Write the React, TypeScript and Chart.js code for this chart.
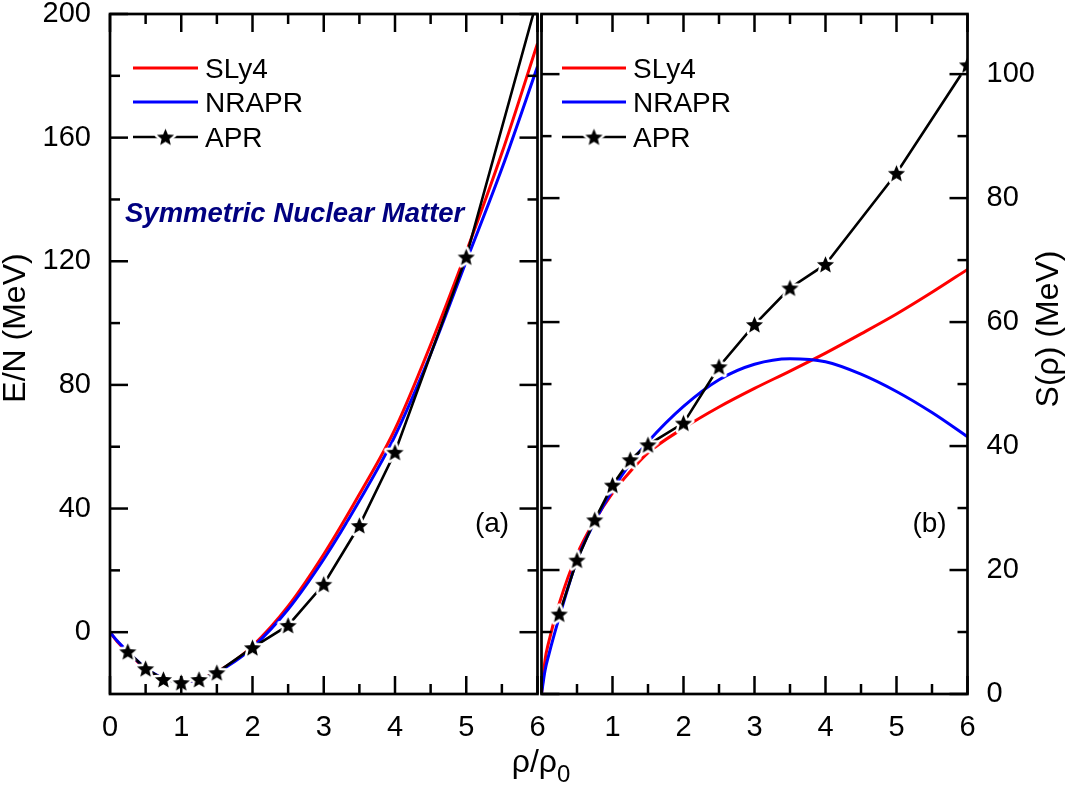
import React, { useEffect, useRef } from 'react';
import { Chart, registerables } from 'chart.js';

Chart.register(...registerables);

const FONT = "'Liberation Sans', Arial, Helvetica, sans-serif";

// ---------- Panel (a): E/N of symmetric nuclear matter ----------
const enDensity = [0, 0.1, 0.25, 0.5, 0.75, 1, 1.25, 1.5, 1.75, 2, 2.5, 3, 3.5, 4, 4.5, 5, 5.5, 6];
const enSLy4 = [0, -3.0, -6.5, -11.8, -15.0, -16.0, -15.3, -12.8, -9.2, -4.5, 8.4, 25.2, 44.6, 65.7, 93, 123, 155, 190.5];
const enNRAPR = [0, -2.8, -6.3, -11.6, -14.9, -16.0, -15.4, -13.0, -9.5, -5.0, 7.4, 23.6, 42.5, 63.5, 90, 120, 150, 183];
const aprDensity = [0.25, 0.5, 0.75, 1, 1.25, 1.5, 2, 2.5, 3, 3.5, 4, 5, 6];
const enAPR = [-6.3, -11.8, -15.3, -16.3, -15.3, -13.1, -5.0, 2.2, 15.5, 34.5, 58.2, 121.4, 205];

// ---------- Panel (b): symmetry energy S(rho) ----------
const sDensity = [0, 0.05, 0.1, 0.25, 0.5, 0.75, 1, 1.25, 1.5, 2, 2.5, 3, 3.5, 4, 4.5, 5, 5.5, 6];
const sSLy4 = [0, 5.5, 8.3, 14.6, 22.5, 28.0, 32.4, 35.9, 38.9, 42.9, 46.3, 49.3, 52.1, 55.0, 58.1, 61.3, 64.8, 68.5];
const sNRAPR = [0, 3.8, 6.2, 12.4, 21.6, 27.8, 32.9, 37.2, 40.7, 46.4, 50.7, 53.2, 54.1, 53.6, 51.6, 48.8, 45.4, 41.5];
const sAPR = [12.9, 21.6, 28.1, 33.7, 37.8, 40.2, 43.7, 52.8, 59.6, 65.5, 69.3, 84.0, 101.5];

// ---------- Ticks ----------
const xLabelsA = [0, 1, 2, 3, 4, 5, 6];
const xLabelsB = [1, 2, 3, 4, 5, 6];
const xMajor = [0, 1, 2, 3, 4, 5, 6];
const xMinor = [0.5, 1.5, 2.5, 3.5, 4.5, 5.5];
const yLabelsA = [0, 40, 80, 120, 160, 200];
const yMinorA = [20, 60, 100, 140, 180];
const yLabelsB = [0, 20, 40, 60, 80, 100];
const yMinorB = [10, 30, 50, 70, 90];

const seriesNames = ['SLy4', 'NRAPR', 'APR'];
const seriesColors = ['#ff0000', '#0000ff', '#000000'];

function makeStar(r: number, halo: number): HTMLCanvasElement {
  const size = Math.ceil(2 * (r + halo) + 2);
  const c = document.createElement('canvas');
  c.width = size;
  c.height = size;
  const g = c.getContext('2d')!;
  const cx = size / 2;
  const cy = size / 2 + r * 0.08;
  g.beginPath();
  for (let i = 0; i < 10; i++) {
    const ang = -Math.PI / 2 + (i * Math.PI) / 5;
    const rr = i % 2 === 0 ? r : r * 0.45;
    g.lineTo(cx + rr * Math.cos(ang), cy + rr * Math.sin(ang));
  }
  g.closePath();
  if (halo > 0) {
    g.lineWidth = halo * 2;
    g.strokeStyle = '#ffffff';
    g.lineJoin = 'round';
    g.stroke();
  }
  g.fillStyle = '#000000';
  g.fill();
  return c;
}

const pts = (xs: number[], ys: number[]) => xs.map((x, i) => ({ x, y: ys[i] }));

function framePlugin(cfg: { xMajor: number[]; xMinor: number[]; yMajor: number[]; yMinor: number[] }) {
  return {
    id: 'frame',
    afterDatasetsDraw(chart: any) {
      const { ctx, chartArea: a, scales } = chart;
      const xs = scales.x;
      const ys = scales.y;
      ctx.save();
      ctx.strokeStyle = '#000';
      ctx.lineWidth = 2.5;
      ctx.lineCap = 'butt';
      const seg = (x1: number, y1: number, x2: number, y2: number) => {
        ctx.beginPath();
        ctx.moveTo(x1, y1);
        ctx.lineTo(x2, y2);
        ctx.stroke();
      };
      const xt = (vals: number[], len: number) =>
        vals.forEach((v) => {
          const p = xs.getPixelForValue(v);
          seg(p, a.bottom, p, a.bottom - len);
          seg(p, a.top, p, a.top + len);
        });
      const yt = (vals: number[], len: number) =>
        vals.forEach((v) => {
          const p = ys.getPixelForValue(v);
          seg(a.left, p, a.left + len, p);
          seg(a.right, p, a.right - len, p);
        });
      xt(cfg.xMajor, 18);
      xt(cfg.xMinor, 10);
      yt(cfg.yMajor, 18);
      yt(cfg.yMinor, 10);
      ctx.lineWidth = 2.7;
      ctx.strokeRect(a.left, a.top, a.right - a.left, a.bottom - a.top);
      ctx.restore();
    },
  };
}

function legendPlugin(cfg: { x0: number; x1: number; textX: number; rows: number[]; star: HTMLCanvasElement }) {
  return {
    id: 'customLegend',
    afterDraw(chart: any) {
      const ctx = chart.ctx;
      ctx.save();
      chart.data.datasets.forEach((ds: any, i: number) => {
        const y = cfg.rows[i];
        ctx.strokeStyle = ds.borderColor;
        ctx.lineWidth = ds.borderWidth;
        ctx.beginPath();
        ctx.moveTo(cfg.x0, y);
        ctx.lineTo(cfg.x1, y);
        ctx.stroke();
        if (ds.pointRadius > 0) {
          const s = cfg.star;
          ctx.drawImage(s, (cfg.x0 + cfg.x1) / 2 - s.width / 2, y - s.height / 2);
        }
        ctx.fillStyle = '#000';
        ctx.font = `28px ${FONT}`;
        ctx.textAlign = 'left';
        ctx.textBaseline = 'alphabetic';
        ctx.fillText(ds.label, cfg.textX, y + 10);
      });
      ctx.restore();
    },
  };
}

type TextItem = { text: string; x: number; y: number; font: string; color?: string; align?: CanvasTextAlign; rotate?: boolean; sub?: string; subFont?: string; subDy?: number };

function textPlugin(items: TextItem[]) {
  return {
    id: 'texts',
    afterDraw(chart: any) {
      const ctx = chart.ctx;
      items.forEach((t) => {
        ctx.save();
        ctx.fillStyle = t.color || '#000';
        ctx.textBaseline = 'alphabetic';
        ctx.translate(t.x, t.y);
        if (t.rotate) ctx.rotate(-Math.PI / 2);
        ctx.font = t.font;
        if (t.sub) {
          const w1 = ctx.measureText(t.text).width;
          ctx.font = t.subFont || t.font;
          const w2 = ctx.measureText(t.sub).width;
          const start = -(w1 + w2) / 2;
          ctx.textAlign = 'left';
          ctx.font = t.font;
          ctx.fillText(t.text, start, 0);
          ctx.font = t.subFont || t.font;
          ctx.fillText(t.sub, start + w1, t.subDy || 0);
        } else {
          ctx.textAlign = t.align || 'center';
          ctx.fillText(t.text, 0, 0);
        }
        ctx.restore();
      });
    },
  };
}

function buildDatasets(xCurve: number[], ySLy4: number[], yNRAPR: number[], yAPR: number[], star: HTMLCanvasElement) {
  return [
    {
      label: seriesNames[0],
      data: pts(xCurve, ySLy4),
      borderColor: seriesColors[0],
      borderWidth: 3,
      pointRadius: 0,
      cubicInterpolationMode: 'monotone',
      fill: false,
      order: 2,
    },
    {
      label: seriesNames[1],
      data: pts(xCurve, yNRAPR),
      borderColor: seriesColors[1],
      borderWidth: 3,
      pointRadius: 0,
      cubicInterpolationMode: 'monotone',
      fill: false,
      order: 1,
    },
    {
      label: seriesNames[2],
      data: pts(aprDensity, yAPR),
      borderColor: seriesColors[2],
      borderWidth: 2.6,
      pointStyle: star,
      pointRadius: 9,
      tension: 0,
      fill: false,
      order: 0,
    },
  ];
}

function axisX(labels: number[]) {
  return {
    type: 'linear',
    position: 'bottom',
    min: 0,
    max: 6,
    grid: { display: false, drawTicks: false },
    border: { display: false },
    ticks: { color: '#000', font: { family: FONT, size: 29 }, padding: 17, maxRotation: 0, autoSkip: false },
    afterBuildTicks: (s: any) => {
      s.ticks = labels.map((v) => ({ value: v }));
    },
    afterFit: (s: any) => {
      s.height = 96;
      s.paddingLeft = 0;
      s.paddingRight = 0;
    },
  };
}

function axisY(labels: number[], min: number, max: number, position: 'left' | 'right', width: number) {
  return {
    type: 'linear',
    position,
    min,
    max,
    grid: { display: false, drawTicks: false },
    border: { display: false },
    ticks: { color: '#000', font: { family: FONT, size: 29 }, padding: 19, autoSkip: false },
    afterBuildTicks: (s: any) => {
      s.ticks = labels.map((v) => ({ value: v }));
    },
    afterFit: (s: any) => {
      s.width = width;
      s.paddingTop = 0;
      s.paddingBottom = 0;
    },
  };
}

export default function App() {
  const leftRef = useRef<HTMLCanvasElement>(null);
  const rightRef = useRef<HTMLCanvasElement>(null);

  useEffect(() => {
    const star = makeStar(9, 2.5);
    const common = {
      responsive: false,
      animation: false,
      events: [],
    };
    const left = new Chart(leftRef.current!, {
      type: 'line',
      data: { datasets: buildDatasets(enDensity, enSLy4, enNRAPR, enAPR, star) as any },
      options: {
        ...common,
        layout: { padding: { left: 0, top: 14, right: 1066 - 537.5, bottom: 0 } },
        scales: {
          x: axisX(xLabelsA) as any,
          y: axisY(yLabelsA, -20, 200, 'left', 110) as any,
        },
        plugins: { legend: { display: false }, tooltip: { enabled: false } },
      } as any,
      plugins: [
        framePlugin({ xMajor, xMinor, yMajor: yLabelsA, yMinor: yMinorA }),
        legendPlugin({ x0: 133, x1: 198, textX: 205, rows: [68, 102, 137], star }),
        textPlugin([
          { text: 'Symmetric Nuclear Matter', x: 125, y: 221.5, font: `italic bold 27.5px ${FONT}`, color: '#000080', align: 'left' },
          { text: '(a)', x: 492, y: 532, font: `28px ${FONT}` },
          { text: 'E/N (MeV)', x: 25, y: 328, font: `32px ${FONT}`, rotate: true },
        ]),
      ] as any,
    });
    const right = new Chart(rightRef.current!, {
      type: 'line',
      data: { datasets: buildDatasets(sDensity, sSLy4, sNRAPR, sAPR, star) as any },
      options: {
        ...common,
        layout: { padding: { left: 541.5, top: 14, right: 0, bottom: 0 } },
        scales: {
          x: axisX(xLabelsB) as any,
          y: axisY(yLabelsB, 0, 109.7, 'right', 1066 - 967.5) as any,
        },
        plugins: { legend: { display: false }, tooltip: { enabled: false } },
      } as any,
      plugins: [
        framePlugin({ xMajor, xMinor, yMajor: yLabelsB, yMinor: yMinorB }),
        legendPlugin({ x0: 562, x1: 626, textX: 633, rows: [68, 102, 137], star }),
        textPlugin([
          { text: '(b)', x: 929.5, y: 532, font: `28px ${FONT}` },
          { text: 'S(ρ) (MeV)', x: 1058, y: 329, font: `32px ${FONT}`, rotate: true },
          { text: 'ρ/ρ', sub: '0', x: 541, y: 772, font: `32px ${FONT}`, subFont: `24px ${FONT}`, subDy: 10 },
        ]),
      ] as any,
    });
    return () => {
      left.destroy();
      right.destroy();
    };
  }, []);

  return (
    <div style={{ position: 'absolute', left: 0, top: 0, width: 1066, height: 790, background: '#fff' }}>
      <canvas ref={leftRef} width={1066} height={790} style={{ position: 'absolute', left: 0, top: 0 }} />
      <canvas ref={rightRef} width={1066} height={790} style={{ position: 'absolute', left: 0, top: 0 }} />
    </div>
  );
}
